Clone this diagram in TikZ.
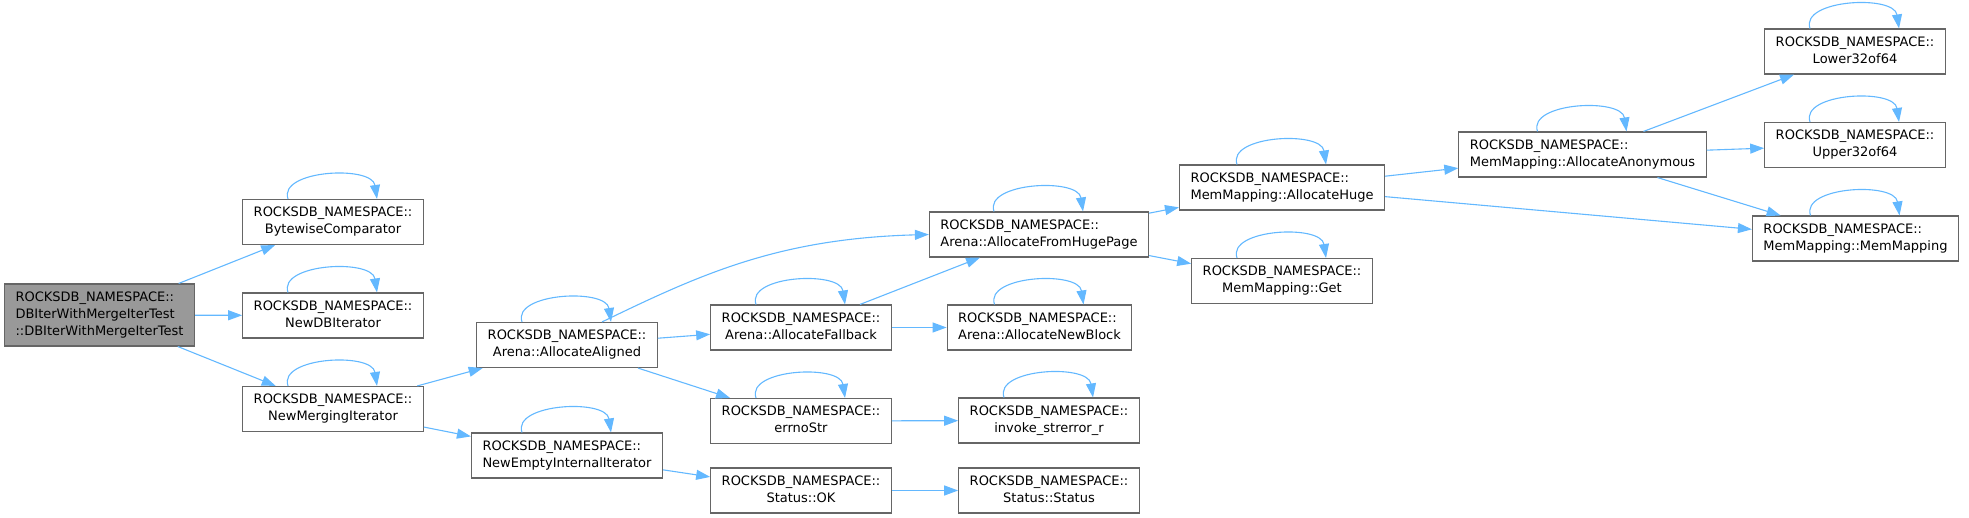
\documentclass[tikz,border=0pt]{standalone}
\usepackage{fontspec}
\setmainfont{DejaVu Sans}
\usepackage{xcolor}
\usepackage{tikz}
\usetikzlibrary{arrows.meta}

\definecolor{linkblue}{HTML}{63B8FF}
\definecolor{boxgrey}{HTML}{666666}
\definecolor{rootgrey}{HTML}{999999}

\newcommand{\rns}{ROCKSDB\_NAMESPACE::}
\newcommand{\fnlabel}[1]{\begin{tabular}{@{}c@{}}\multicolumn{1}{@{}l@{}}{\rns}\\#1\end{tabular}}
\newcommand{\selfloop}[1]{\draw[callarrow] ([xshift=-45pt]#1.north) .. controls +(-10pt,29pt) and +(-5pt,34pt) .. ([xshift=44pt]#1.north);}

\begin{document}
\begin{tikzpicture}[x=1pt, y=-1pt,
    fnbox/.style={draw=boxgrey, line width=1.1pt, fill=white, inner xsep=11pt, inner ysep=3pt,
        minimum height=45pt, font=\fontsize{13}{17}\selectfont},
    rootbox/.style={fnbox, fill=rootgrey, minimum height=62pt, align=left},
    callarrow/.style={draw=linkblue, line width=1.1pt, -{Triangle[length=14pt, width=10pt]}}]
    \useasboundingbox (0,0) rectangle (1969,518);

    % Funzione radice
    \node[rootbox] (root) at (99.5,315) {\rns\\DBIterWithMergeIterTest\\::DBIterWithMergeIterTest};

    % Prima colonna
    \node[fnbox] (bwc) at (333,222) {\fnlabel{BytewiseComparator}};
    \node[fnbox] (ndbi) at (333,315.5) {\fnlabel{NewDBIterator}};
    \node[fnbox] (nmi) at (333,409) {\fnlabel{NewMergingIterator}};

    % Seconda colonna
    \node[fnbox] (aa) at (567,345) {\fnlabel{Arena::AllocateAligned}};
    \node[fnbox] (neii) at (567,455.5) {\fnlabel{NewEmptyInternalIterator}};

    % Terza colonna
    \node[fnbox] (af) at (801,327.5) {\fnlabel{Arena::AllocateFallback}};
    \node[fnbox] (errs) at (801,421) {\fnlabel{errnoStr}};
    \node[fnbox] (sok) at (801,490.5) {\fnlabel{Status::OK}};

    % Quarta colonna
    \node[fnbox] (afhp) at (1039,234.5) {\fnlabel{Arena::AllocateFromHugePage}};
    \node[fnbox] (anb) at (1039.5,327.5) {\fnlabel{Arena::AllocateNewBlock}};
    \node[fnbox] (isr) at (1049,420.5) {\fnlabel{invoke\_strerror\_r}};
    \node[fnbox] (sst) at (1049,490.5) {\fnlabel{Status::Status}};

    % Quinta colonna
    \node[fnbox] (ah) at (1282,187.5) {\fnlabel{MemMapping::AllocateHuge}};
    \node[fnbox] (get) at (1282,281) {\fnlabel{MemMapping::Get}};

    % Sesta e settima colonna
    \node[fnbox] (aanon) at (1582.5,154.5) {\fnlabel{MemMapping::AllocateAnonymous}};
    \node[fnbox] (low) at (1855,51.5) {\fnlabel{Lower32of64}};
    \node[fnbox] (up) at (1855,145) {\fnlabel{Upper32of64}};
    \node[fnbox] (mm) at (1855.5,238.5) {\fnlabel{MemMapping::MemMapping}};

    % Chiamate
    \draw[callarrow] (root) -- (bwc);
    \draw[callarrow] (root) -- (ndbi);
    \draw[callarrow] (root) -- (nmi);
    \draw[callarrow] (nmi) -- (aa);
    \draw[callarrow] (nmi) -- (neii);
    \draw[callarrow] (aa) -- (af);
    \draw[callarrow] (aa) -- (errs);
    \draw[callarrow] ([xshift=35pt]aa.north) .. controls +(99pt,48pt) and +(-150pt,-4pt) .. (afhp.west);
    \draw[callarrow] (neii) -- (sok);
    \draw[callarrow] (af) -- (afhp);
    \draw[callarrow] (af) -- (anb);
    \draw[callarrow] (errs) -- (isr);
    \draw[callarrow] (sok) -- (sst);
    \draw[callarrow] (afhp) -- (ah);
    \draw[callarrow] (afhp) -- (get);
    \draw[callarrow] (ah) -- (aanon);
    \draw[callarrow] (ah) -- (mm);
    \draw[callarrow] (aanon) -- (low);
    \draw[callarrow] (aanon) -- (up);
    \draw[callarrow] (aanon) -- (mm);

    % Chiamate ricorsive
    \foreach \n in {bwc,ndbi,nmi,aa,af,errs,neii,afhp,anb,isr,ah,get,aanon,low,up,mm}{
        \selfloop{\n}
    }
\end{tikzpicture}
\end{document}
